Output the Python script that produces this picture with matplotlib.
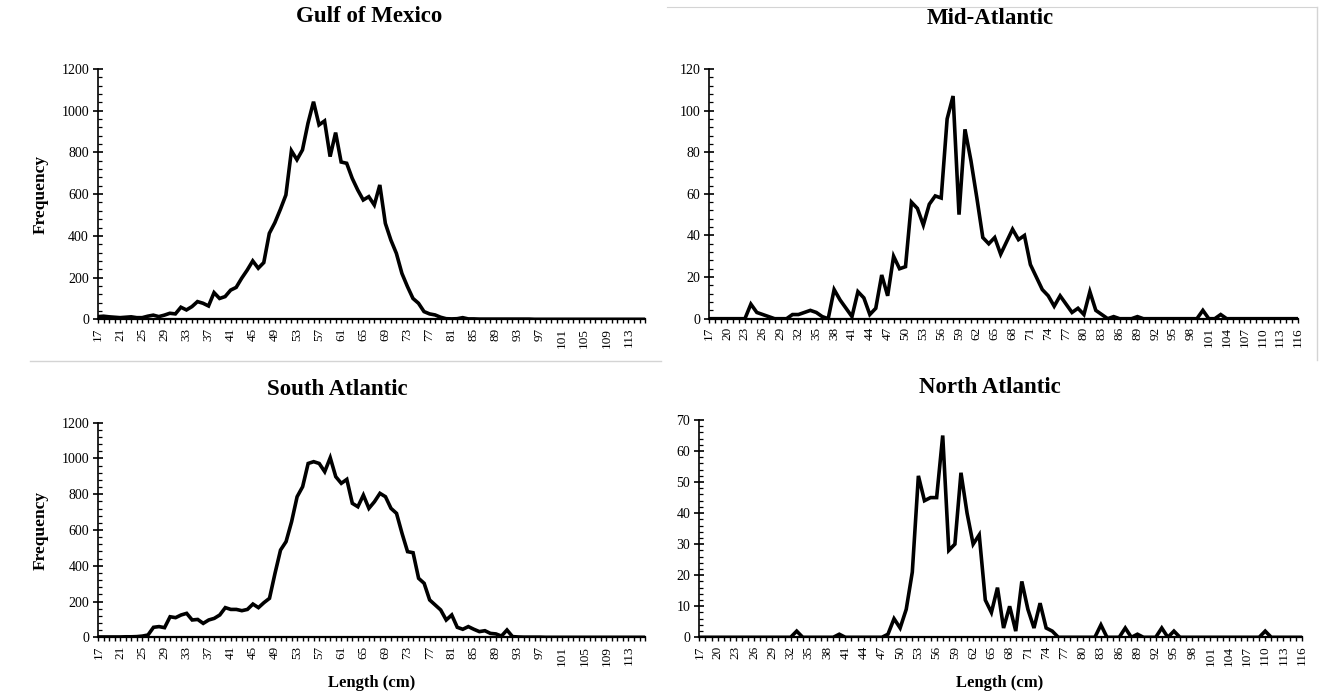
import numpy as np
import matplotlib
matplotlib.use("Agg")
import matplotlib.pyplot as plt
from matplotlib.ticker import MultipleLocator
from matplotlib.lines import Line2D

plt.rcParams["font.family"] = ["Liberation Serif", "DejaVu Serif"]

# ── Donnees : frequence par classe de longueur (17..116 cm) ──────────────────
lengths = list(range(17, 117))

gulf_of_mexico = [
    13, 15, 12, 10, 8, 10, 12, 8, 8, 15,            # 17-26
    20, 13, 20, 29, 26, 58, 45, 61, 85, 77,         # 27-36
    64, 128, 100, 109, 140, 153, 197, 236, 280, 245,  # 37-46
    272, 412, 463, 527, 596, 808, 765, 812, 940, 1043,  # 47-56
    932, 951, 780, 895, 754, 748, 676, 620, 572, 588,   # 57-66
    548, 644, 460, 380, 316, 220, 157, 100, 77, 37,     # 67-76
    26, 21, 10, 3, 2, 3, 8, 2, 2, 1,                # 77-86
    1, 1, 1, 1, 1, 1, 1, 1, 1, 0,                   # 87-96
    0, 0, 0, 0, 0, 0, 0, 0, 0, 0,                   # 97-106
    0, 0, 0, 0, 0, 0, 0, 0, 0, 0,                   # 107-116
]

mid_atlantic = [
    0, 0, 0, 0, 0, 0, 0, 7, 3, 2,                   # 17-26
    1, 0, 0, 0, 2, 2, 3, 4, 3, 1,                   # 27-36
    0, 14, 9, 5, 1, 13, 10, 2, 5, 21,               # 37-46
    11, 30, 24, 25, 56, 53, 45, 55, 59, 58,         # 47-56
    96, 107, 50, 91, 76, 58, 39, 36, 39, 31,        # 57-66
    37, 43, 38, 40, 26, 20, 14, 11, 6, 11,          # 67-76
    7, 3, 5, 2, 13, 4, 2, 0, 1, 0,                  # 77-86
    0, 0, 1, 0, 0, 0, 0, 0, 0, 0,                   # 87-96
    0, 0, 0, 4, 0, 0, 2, 0, 0, 0,                   # 97-106
    0, 0, 0, 0, 0, 0, 0, 0, 0, 0,                   # 107-116
]

south_atlantic = [
    2, 2, 2, 2, 2, 3, 3, 4, 7, 13,                  # 17-26
    56, 60, 54, 115, 110, 125, 134, 97, 100, 78,    # 27-36
    97, 106, 125, 166, 156, 156, 149, 156, 186, 166,  # 37-46
    194, 218, 358, 488, 535, 646, 786, 842, 972, 982,  # 47-56
    972, 926, 1004, 898, 861, 883, 749, 730, 795, 721,  # 57-66
    758, 805, 786, 721, 693, 581, 479, 473, 330, 302,   # 67-76
    209, 181, 153, 97, 125, 56, 45, 60, 45, 32,     # 77-86
    37, 22, 19, 7, 41, 4, 2, 1, 1, 1,               # 87-96
    1, 0, 0, 0, 0, 0, 0, 0, 0, 0,                   # 97-106
    0, 0, 0, 0, 0, 0, 0, 0, 0, 0,                   # 107-116
]

north_atlantic = [
    0, 0, 0, 0, 0, 0, 0, 0, 0, 0,                   # 17-26
    0, 0, 0, 0, 0, 0, 2, 0, 0, 0,                   # 27-36
    0, 0, 0, 1, 0, 0, 0, 0, 0, 0,                   # 37-46
    0, 1, 6, 3, 9, 21, 52, 44, 45, 45,              # 47-56
    65, 28, 30, 53, 40, 30, 33, 12, 8, 16,          # 57-66
    3, 10, 2, 18, 9, 3, 11, 3, 2, 0,                # 67-76
    0, 0, 0, 0, 0, 0, 4, 0, 0, 0,                   # 77-86
    3, 0, 1, 0, 0, 0, 3, 0, 2, 0,                   # 87-96
    0, 0, 0, 0, 0, 0, 0, 0, 0, 0,                   # 97-106
    0, 0, 0, 2, 0, 0, 0, 0, 0, 0,                   # 107-116
]

# (titre, serie, ymax, pas majeur, pas mineur, pas etiquettes x, rect axes, pos titre)
panels = [
    ("Gulf of Mexico", gulf_of_mexico, 1200, 200, 40, 4,
     [0.0742, 0.5412, 0.4141, 0.3597], (0.2797, 0.9756)),
    ("Mid-Atlantic", mid_atlantic, 120, 20, 4, 3,
     [0.5369, 0.5421, 0.4457, 0.3588], (0.7498, 0.9741)),
    ("South Atlantic", south_atlantic, 1200, 200, 40, 4,
     [0.0744, 0.0843, 0.4139, 0.3084], (0.2555, 0.4397)),
    ("North Atlantic", north_atlantic, 70, 10, 2, 3,
     [0.5294, 0.0843, 0.4560, 0.3123], (0.7494, 0.4426)),
]

fig = plt.figure(figsize=(13.21, 6.96), dpi=100)
fig.patch.set_facecolor("white")

# Cadres gris clairs (captures d'origine)
GREYLINE = "#d4d4d4"
fig.add_artist(Line2D([0.023, 0.50], [0.481, 0.481], transform=fig.transFigure,
                      color=GREYLINE, lw=1))
fig.add_artist(Line2D([0.997, 0.997], [0.483, 0.99], transform=fig.transFigure,
                      color=GREYLINE, lw=1))
fig.add_artist(Line2D([0.505, 0.997], [0.990, 0.990], transform=fig.transFigure,
                      color=GREYLINE, lw=0.8))

for title, vals, ymax, major, minor, lstep, rect, tpos in panels:
    ax = fig.add_axes(rect)
    ax.plot(lengths, vals, color="black", lw=2.6, solid_joinstyle="miter")
    ax.set_xlim(lengths[0], lengths[-1])
    ax.set_ylim(0, ymax)

    ax.yaxis.set_major_locator(MultipleLocator(major))
    ax.yaxis.set_minor_locator(MultipleLocator(minor))
    ax.tick_params(axis="y", which="major", direction="inout", length=7,
                   width=1.2, labelsize=10, pad=3)
    ax.tick_params(axis="y", which="minor", direction="in", length=3, width=0.9)

    ax.set_xticks(lengths)
    ax.set_xticklabels([str(v) if (v - lengths[0]) % lstep == 0 else ""
                        for v in lengths], rotation=90)
    ax.tick_params(axis="x", direction="out", length=3, width=1.0,
                   labelsize=9.5, pad=3)

    for s in ["top", "right"]:
        ax.spines[s].set_visible(False)
    ax.spines["left"].set_linewidth(1.2)
    ax.spines["bottom"].set_linewidth(1.6)

    fig.text(tpos[0], tpos[1], title, ha="center", va="center",
             fontsize=16.5, fontweight="bold")

# Libelles d'axes
fig.text(0.031, 0.720, "Frequency", rotation=90, ha="center", va="center",
         fontsize=12.5, fontweight="bold")
fig.text(0.031, 0.238, "Frequency", rotation=90, ha="center", va="center",
         fontsize=12.5, fontweight="bold")
fig.text(0.2810, 0.019, "Length (cm)", ha="center", va="center",
         fontsize=12, fontweight="bold")
fig.text(0.7570, 0.019, "Length (cm)", ha="center", va="center",
         fontsize=12, fontweight="bold")

fig.savefig("out.png", dpi=100, facecolor="white")
